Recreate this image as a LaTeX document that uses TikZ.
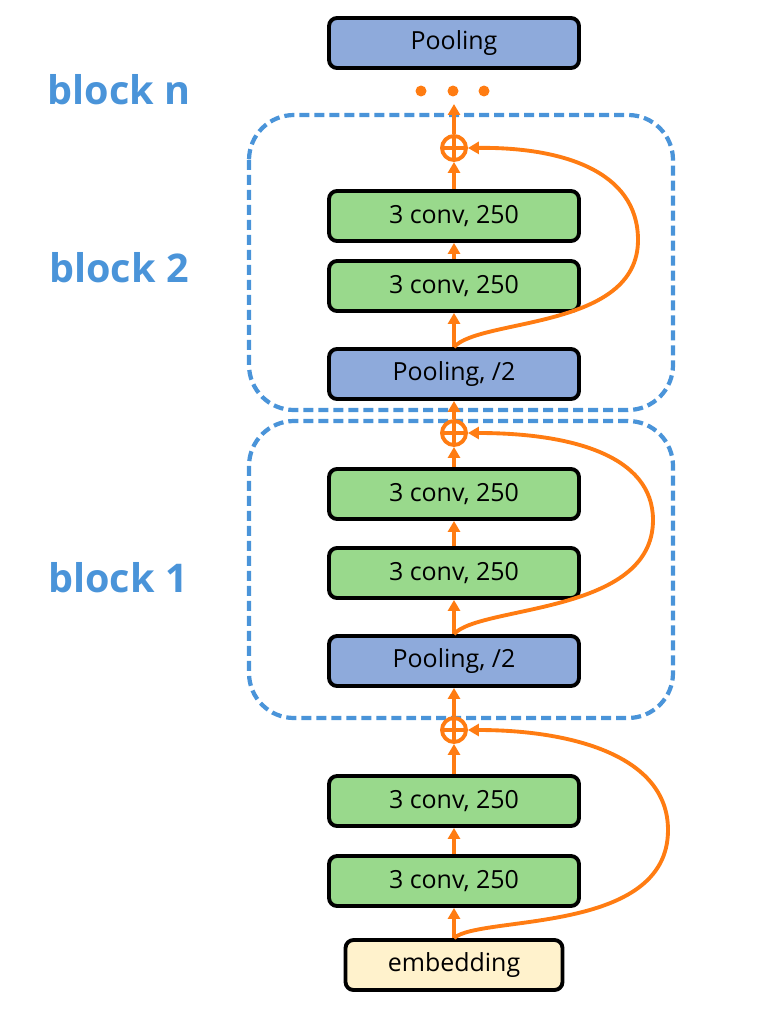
\documentclass[tikz,border=0pt]{standalone}
\usepackage{fontspec}
\setmainfont{Open Sans}
\usetikzlibrary{arrows.meta}

\definecolor{skiporange}{RGB}{255,124,18}
\definecolor{blockblue}{RGB}{74,148,217}
\definecolor{poolblue}{RGB}{142,170,219}
\definecolor{convgreen}{RGB}{153,217,140}
\definecolor{embyellow}{RGB}{255,242,204}

\tikzset{
    layer/.style={draw=black, line width=2.2pt, rounded corners=0.16cm, minimum width=5cm, minimum height=1cm, font=\fontsize{14.2}{16}\selectfont},
    conv/.style={layer, fill=convgreen},
    pool/.style={layer, fill=poolblue},
    addop/.style={circle, draw=skiporange, line width=2.2pt, minimum size=0.48cm, inner sep=0pt,
        path picture={\draw[skiporange, line width=2.2pt] (path picture bounding box.north) -- (path picture bounding box.south) (path picture bounding box.west) -- (path picture bounding box.east);}},
    flow/.style={draw=skiporange, line width=2.2pt, -{Triangle[length=0.22cm, width=0.24cm]}},
    blockbox/.style={draw=blockblue, line width=2.4pt, dash pattern=on 0.2cm off 0.1cm, rounded corners=0.9cm},
    blocklabel/.style={text=blockblue, font=\fontsize{22.5}{26}\selectfont\bfseries},
    dot/.style={circle, fill=skiporange, minimum size=0.22cm, inner sep=0pt}
}

\begin{document}
\begin{tikzpicture}[x=0.02cm, y=-0.02cm]
        \useasboundingbox (0, 0) rectangle (758, 1024);

        \draw[blockbox] (249, 115) rectangle (673, 410);
        \draw[blockbox] (249, 421) rectangle (673, 718);

        \node[blocklabel] (lbln) at (119, 90) {block n};
        \node[blocklabel] (lbl2) at (119, 268) {block 2};
        \node[blocklabel] (lbl1) at (118, 578) {block 1};

        \node[pool] (top) at (454, 43) {Pooling};
        \node[dot] (dota) at (421, 91) {};
        \node[dot] (dotb) at (453, 91) {};
        \node[dot] (dotc) at (484, 91) {};
        \coordinate (out2) at (454, 104);

        \node[addop] (add2) at (454, 148) {};
        \node[conv] (conv2b) at (454, 216) {3 conv, 250};
        \node[conv] (conv2a) at (454, 286) {3 conv, 250};
        \node[pool] (pool2) at (454, 374) {Pooling, /2};

        \node[addop] (add1) at (454, 433) {};
        \node[conv] (conv1b) at (454, 494) {3 conv, 250};
        \node[conv] (conv1a) at (454, 573) {3 conv, 250};
        \node[pool] (pool1) at (454, 661) {Pooling, /2};

        \node[addop] (add0) at (454, 730) {};
        \node[conv] (conv0b) at (454, 801) {3 conv, 250};
        \node[conv] (conv0a) at (454, 881) {3 conv, 250};
        \node[layer, fill=embyellow, minimum width=4.34cm] (emb) at (454, 965) {embedding};

        % main path
        \draw[flow] (emb) -- (conv0a);
        \draw[flow] (conv0a) -- (conv0b);
        \draw[flow] (conv0b) -- (add0);
        \draw[flow] (add0) -- (pool1);
        \draw[flow] (pool1) -- (conv1a);
        \draw[flow] (conv1a) -- (conv1b);
        \draw[flow] (conv1b) -- (add1);
        \draw[flow] (add1) -- (pool2);
        \draw[flow] (pool2) -- (conv2a);
        \draw[flow] (conv2a) -- (conv2b);
        \draw[flow] (conv2b) -- (add2);
        \draw[flow] (add2) -- (out2);

        % shortcuts
        \draw[flow] (emb.north) .. controls (480, 915) and (668, 935) .. (668, 830) .. controls (668, 755) and (570, 730) .. (add0.east);
        \draw[flow] (pool1.north) .. controls (480, 605) and (653, 615) .. (653, 520) .. controls (653, 455) and (570, 433) .. (add1.east);
        \draw[flow] (pool2.north) .. controls (480, 318) and (638, 330) .. (638, 240) .. controls (638, 170) and (560, 147) .. (add2.east);
    \end{tikzpicture}
\end{document}
